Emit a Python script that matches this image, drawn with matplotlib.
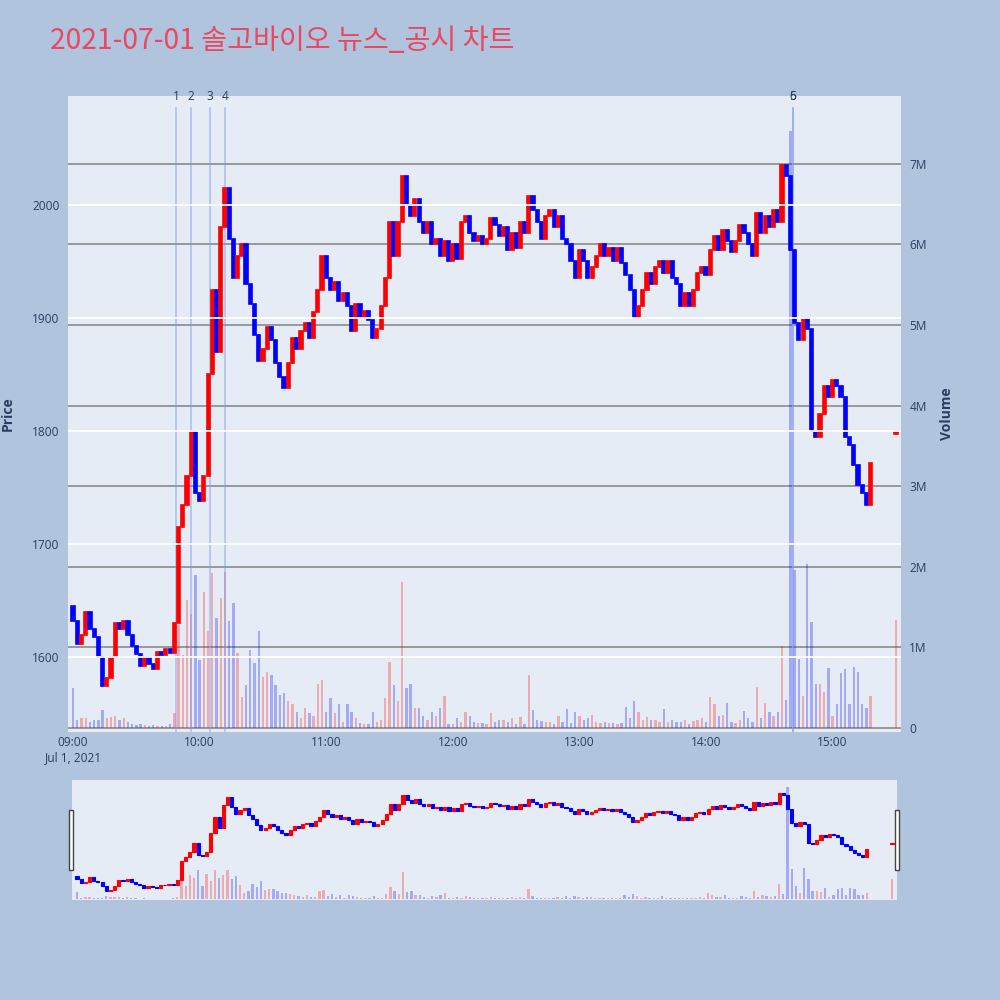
import numpy as np
import pandas as pd
import matplotlib
matplotlib.use("Agg")
import matplotlib.pyplot as plt
import matplotlib.transforms as mtransforms
from matplotlib.patches import Rectangle

title = "2021-07-01 솔고바이오 뉴스_공시 차트"

# 2-minute candles from 09:00, open of each = previous close
first_open = 1645
close = [
    1632, 1612, 1620, 1640, 1625, 1618, 1600, 1575, 1582, 1600,
    1630, 1625, 1632, 1620, 1610, 1603, 1592, 1600, 1594, 1590,
    1605, 1602, 1607, 1604, 1630, 1715, 1735, 1760, 1800, 1745,
    1738, 1760, 1850, 1925, 1870, 1980, 2015, 1970, 1935, 1955,
    1965, 1930, 1912, 1885, 1862, 1872, 1892, 1880, 1860, 1848,
    1838, 1860, 1882, 1872, 1888, 1895, 1882, 1905, 1925, 1955,
    1935, 1925, 1932, 1915, 1922, 1910, 1888, 1912, 1900, 1906,
    1898, 1882, 1890, 1910, 1935, 1985, 1955, 1985, 2025, 2000,
    1990, 2005, 1985, 1975, 1985, 1965, 1970, 1955, 1968, 1950,
    1965, 1952, 1985, 1990, 1975, 1968, 1972, 1965, 1970, 1988,
    1982, 1972, 1980, 1960, 1975, 1962, 1985, 1975, 2008, 1995,
    1985, 1970, 1990, 1995, 1980, 1990, 1970, 1965, 1950, 1935,
    1960, 1950, 1935, 1945, 1955, 1965, 1955, 1962, 1950, 1962,
    1948, 1938, 1925, 1900, 1910, 1925, 1940, 1930, 1945, 1950,
    1940, 1950, 1935, 1930, 1910, 1922, 1910, 1925, 1940, 1945,
    1938, 1960, 1972, 1960, 1978, 1968, 1958, 1968, 1982, 1975,
    1965, 1955, 1993, 1975, 1990, 1980, 1995, 1985, 2035, 2025,
    1960, 1895, 1880, 1900, 1890, 1800, 1795, 1815, 1840, 1830,
    1845, 1840, 1830, 1795, 1788, 1770, 1752, 1745, 1735, 1772,
]

# volume in millions of shares
volume_m = [
    0.50, 0.10, 0.12, 0.12, 0.08, 0.10, 0.10, 0.22, 0.12, 0.14,
    0.15, 0.10, 0.12, 0.08, 0.05, 0.04, 0.05, 0.04, 0.03, 0.04,
    0.03, 0.03, 0.02, 0.05, 0.18, 1.28, 0.90, 1.59, 1.42, 1.90,
    0.84, 1.69, 1.20, 1.92, 1.37, 1.61, 1.94, 1.33, 1.55, 0.93,
    0.39, 0.53, 0.97, 0.81, 1.20, 0.63, 0.70, 0.66, 0.53, 0.41,
    0.43, 0.33, 0.30, 0.20, 0.12, 0.25, 0.18, 0.15, 0.55, 0.60,
    0.20, 0.37, 0.18, 0.30, 0.08, 0.30, 0.20, 0.12, 0.06, 0.05,
    0.05, 0.20, 0.08, 0.10, 0.37, 0.82, 0.53, 0.33, 1.81, 0.50,
    0.55, 0.25, 0.25, 0.15, 0.10, 0.20, 0.15, 0.25, 0.40, 0.05,
    0.05, 0.12, 0.08, 0.20, 0.15, 0.08, 0.06, 0.06, 0.05, 0.18,
    0.08, 0.10, 0.10, 0.07, 0.12, 0.05, 0.14, 0.05, 0.66, 0.22,
    0.10, 0.09, 0.08, 0.07, 0.05, 0.15, 0.08, 0.23, 0.06, 0.20,
    0.15, 0.10, 0.12, 0.16, 0.08, 0.06, 0.07, 0.06, 0.06, 0.05,
    0.06, 0.26, 0.12, 0.33, 0.20, 0.10, 0.14, 0.10, 0.10, 0.08,
    0.24, 0.08, 0.10, 0.07, 0.08, 0.10, 0.05, 0.09, 0.10, 0.12,
    0.08, 0.38, 0.30, 0.15, 0.16, 0.31, 0.08, 0.06, 0.10, 0.21,
    0.12, 0.07, 0.51, 0.12, 0.31, 0.20, 0.15, 0.20, 1.02, 0.35,
    7.40, 1.96, 0.86, 0.40, 2.04, 1.32, 0.55, 0.55, 0.45, 0.74,
    0.15, 0.30, 0.68, 0.73, 0.30, 0.76, 0.70, 0.30, 0.25, 0.40,
]

# closing auction
auction_time = "15:30"
auction_open = 1797
auction_close = 1800
auction_vol = 1.34

news_times = ["09:49", "09:56", "10:05", "10:12", "14:41", "14:41"]
news_labels = ["1", "2", "3", "4", "5", "6"]

hour_ticks = ["09:00", "10:00", "11:00", "12:00", "13:00", "14:00", "15:00"]
hour_labels = ["09:00\nJul 1, 2021", "10:00", "11:00", "12:00", "13:00", "14:00", "15:00"]
price_ticks = [1600, 1700, 1800, 1900, 2000]
vol_ticks = [0, 1, 2, 3, 4, 5, 6, 7]
vol_labels = ["0", "1M", "2M", "3M", "4M", "5M", "6M", "7M"]

TXT = "#2a3f5f"
BG = "#B0C4DE"
PLOT_BG = "#E5ECF6"

plt.rcParams["font.family"] = ["Open Sans", "Noto Sans CJK KR", "DejaVu Sans"]

day = pd.Timestamp("2021-07-01 09:00")


def minutes(hhmm):
    return (pd.Timestamp("2021-07-01 " + hhmm) - day) / pd.Timedelta(minutes=1)


times = pd.date_range(day, periods=len(close), freq="2min")
t = np.array((times - day) / pd.Timedelta(minutes=1), dtype=float)
t = np.append(t, minutes(auction_time))
c = np.array(close + [auction_close], dtype=float)
o = np.concatenate([[first_open], close[:-1], [auction_open]]).astype(float)
v = np.array(volume_m + [auction_vol]) * 1e6
up = c > o
cand_col = np.where(up, "#FF0000", "#0000FF")


def draw(ax, axv, lw):
    axv.bar(t, v, width=1.1, color=cand_col, alpha=0.28, linewidth=0)
    ax.bar(t, c - o, bottom=o, width=1.5, color=cand_col,
           edgecolor=cand_col, linewidth=lw)
    ax.set_xlim(-2.4, 392.4)
    ax.set_ylim(1534, 2096)
    axv.set_ylim(-0.05e6, 7.84e6)
    for a in (ax, axv):
        for s in a.spines.values():
            s.set_visible(False)
    ax.set_zorder(axv.get_zorder() + 1)
    ax.patch.set_visible(False)
    axv.patch.set_visible(True)
    axv.set_facecolor(PLOT_BG)


fig = plt.figure(figsize=(10, 10), dpi=100)
fig.patch.set_facecolor(BG)

ax = fig.add_axes([0.068, 0.268, 0.833, 0.636])
axv = ax.twinx()
draw(ax, axv, 1.2)

ax.set_yticks(price_ticks)
ax.grid(axis="y", color="white", linewidth=1.3)
ax.set_xticks([minutes(h) for h in hour_ticks])
ax.set_xticklabels(hour_labels, linespacing=1.15)
ax.tick_params(axis="both", length=0, labelsize=8.6, labelcolor=TXT)
ax.tick_params(axis="y", pad=6)
ax.tick_params(axis="x", pad=3)

axv.set_yticks([x * 1e6 for x in vol_ticks])
axv.set_yticklabels(vol_labels)
axv.set_axisbelow(True)
axv.grid(axis="y", color="#8a8a8a", linewidth=1.2)
axv.tick_params(axis="y", length=0, labelsize=8.6, labelcolor=TXT, pad=6)

ax.set_ylabel("Price", fontsize=10, fontweight="bold", color=TXT)
ax.yaxis.set_label_coords(-0.064, 0.5)
axv.set_ylabel("Volume", fontsize=10, fontweight="bold", color=TXT)
axv.yaxis.set_label_coords(1.047, 0.5)

# news markers
trans = mtransforms.blended_transform_factory(ax.transData, ax.transAxes)
for hhmm, lab in zip(news_times, news_labels):
    x = minutes(hhmm)
    ax.axvline(x, ymin=0, ymax=0.981, color="#7f9cf0", alpha=0.55, linewidth=1.2, zorder=0)
    ax.text(x, 0.999, lab, transform=trans, ha="center", va="center",
            fontsize=8.6, color=TXT, clip_on=False)

# range slider
axs = fig.add_axes([0.072, 0.1, 0.825, 0.12])
axsv = axs.twinx()
draw(axs, axsv, 0.8)
for a in (axs, axsv):
    a.set_xticks([])
    a.set_yticks([])
for hx in (0.069, 0.895):
    fig.patches.append(Rectangle((hx, 0.13), 0.004, 0.06, transform=fig.transFigure,
                                 facecolor="white", edgecolor="#444444", linewidth=1))

fig.text(0.05, 0.959, title, fontsize=20.3, color="#EA4760", ha="left", va="center",
         family=["Noto Sans CJK KR", "DejaVu Sans"])

fig.savefig("out.png", dpi=100, facecolor=fig.get_facecolor())
